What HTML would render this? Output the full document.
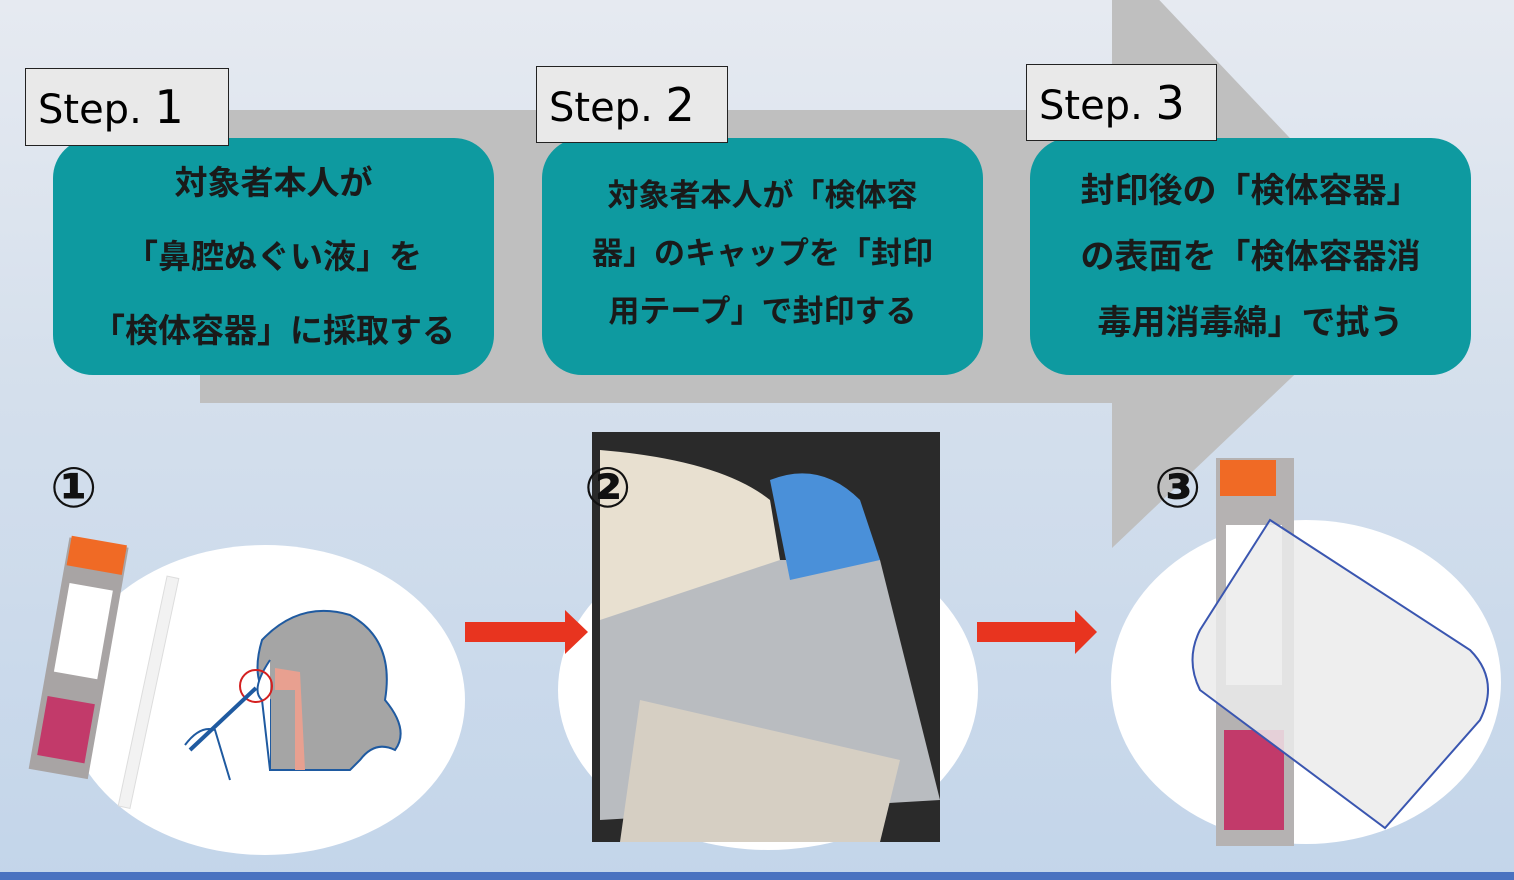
<!DOCTYPE html>
<html><head><meta charset="utf-8"><style>
body{margin:0;width:1514px;height:880px;overflow:hidden;position:relative;background:linear-gradient(#e6eaf1 0%,#d4dfec 45%,#c3d5ea 100%);font-family:"Liberation Sans","Noto Sans CJK JP",sans-serif}
.abs{position:absolute}
.teal{position:absolute;background:#0e9aa0;border-radius:40px;top:138px;height:237px;width:441px;color:#1a1a1a;font-weight:bold;text-align:center;font-family:"Noto Sans CJK JP",sans-serif;box-sizing:border-box;overflow:hidden}
.step{position:absolute;background:#e9e9e9;border:1.5px solid #222;font-size:40px;padding-left:12px;box-sizing:border-box;line-height:76px;font-family:"DejaVu Sans","Liberation Sans",sans-serif}
.step b{font-weight:normal;font-size:46px}
.num{position:absolute;font-size:56px;font-weight:bold;font-family:"DejaVu Sans","Noto Sans CJK JP",sans-serif;color:#111}
</style></head><body>
<svg class="abs" style="left:0;top:0" width="1514" height="880">
<polygon points="200,110 1112,110 1112,-50 1410,265 1112,548 1112,403 200,403" fill="#bfbfbf"/>
<ellipse cx="265" cy="700" rx="200" ry="155" fill="#fff"/>
<ellipse cx="768" cy="690" rx="210" ry="160" fill="#fff"/>
<ellipse cx="1306" cy="682" rx="195" ry="162" fill="#fff"/>
<polygon points="465,622 565,622 565,610 588,632 565,654 565,642 465,642" fill="#e8341f"/>
<polygon points="977,622 1075,622 1075,610 1097,632 1075,654 1075,642 977,642" fill="#e8341f"/>
<g transform="rotate(10 75 650)"><rect x="50" y="540" width="60" height="235" fill="#a8a4a4"/><rect x="52" y="538" width="56" height="30" fill="#f06a25"/><rect x="58" y="585" width="44" height="90" fill="#fff"/><rect x="56" y="700" width="48" height="60" fill="#c23a6a"/></g>
<g transform="rotate(12 150 690)"><rect x="143" y="575" width="12" height="235" fill="#f2f2f2" stroke="#ddd"/></g>
<path d="M262 640 Q300 600 350 615 Q395 640 385 700 Q410 730 395 750 Q375 740 360 760 L350 770 L270 770 L270 700 Q250 680 262 640Z" fill="#a5a5a5" stroke="#1f5aa0" stroke-width="2"/>
<path d="M270 660 Q250 690 262 700 L270 770" fill="#fff" stroke="#1f5aa0" stroke-width="2"/>
<path d="M275 668 L300 672 L305 770 L295 770 L295 690 L275 690Z" fill="#e8a090"/>
<circle cx="256" cy="686" r="16" fill="none" stroke="#d42020" stroke-width="2"/>
<line x1="256" y1="688" x2="190" y2="750" stroke="#1f5aa0" stroke-width="4"/>
<path d="M185 745 Q200 725 215 730 L230 780" fill="none" stroke="#1f5aa0" stroke-width="2"/>
<rect x="592" y="432" width="348" height="410" fill="#2a2a2a"/>
<path d="M600 560 L880 560 L940 800 L600 820Z" fill="#b9bcc0"/>
<path d="M600 450 Q720 460 770 500 L780 560 L600 620Z" fill="#e8e0d0"/>
<path d="M770 480 Q820 460 860 500 L880 560 L790 580Z" fill="#4a90d9"/>
<path d="M640 700 L900 760 L880 842 L620 842Z" fill="#d6cfc3"/>
<rect x="1216" y="458" width="78" height="388" fill="#b5b2b2"/>
<rect x="1220" y="460" width="56" height="36" fill="#f06a25"/>
<rect x="1226" y="525" width="56" height="160" fill="#fff"/>
<rect x="1224" y="730" width="60" height="100" fill="#c23a6a"/>
<path d="M1270 520 L1470 650 Q1500 680 1480 720 L1385 828 L1200 690 Q1185 660 1200 630Z" fill="rgba(235,235,235,0.85)" stroke="#3a56b0" stroke-width="2"/>
<rect x="0" y="872" width="1514" height="8" fill="#4a72c0"/>
</svg>
<div class="teal" style="left:53px;font-size:33px;line-height:74px;padding-top:5px">対象者本人が<br>「鼻腔ぬぐい液」を<br>「検体容器」に採取する</div>
<div class="teal" style="left:542px;font-size:31px;line-height:58px;padding-top:26px">対象者本人が「検体容<br>器」のキャップを「封印<br>用テープ」で封印する</div>
<div class="teal" style="left:1030px;font-size:34px;line-height:66px;padding-top:17px">封印後の「検体容器」<br>の表面を「検体容器消<br>毒用消毒綿」で拭う</div>
<div class="step" style="left:25px;top:68px;width:204px;height:78px">Step. <b>1</b></div>
<div class="step" style="left:536px;top:66px;width:192px;height:77px">Step. <b>2</b></div>
<div class="step" style="left:1026px;top:64px;width:191px;height:77px">Step. <b>3</b></div>
<div class="num" style="left:50px;top:456px">①</div>
<div class="num" style="left:584px;top:456px">②</div>
<div class="num" style="left:1154px;top:456px">③</div>
</body></html>
